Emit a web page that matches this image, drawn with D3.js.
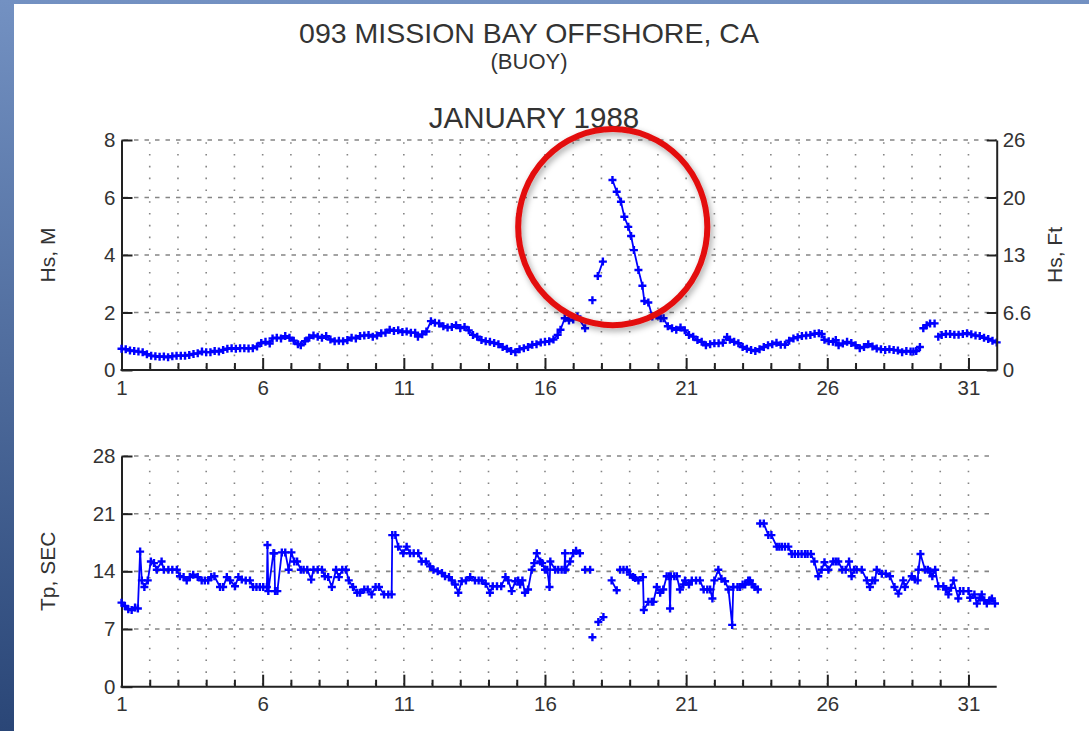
<!DOCTYPE html>
<html>
<head>
<meta charset="utf-8">
<script src="https://cdn.jsdelivr.net/npm/d3@7"></script>
<style>
  body { margin: 0; padding: 0; background: #ffffff; }
  svg { display: block; }
  text { font-family: "Liberation Sans", Arial, sans-serif; }
</style>
</head>
<body>
<div id="chart-area"></div>
<script>
// Titles
var titleMain = "093 MISSION BAY OFFSHORE, CA";
var titleSub = "(BUOY)";
var titleMonth = "JANUARY 1988";

// Axis ticks
var dayTicks = [1, 6, 11, 16, 21, 26, 31];
var hsTicks = [0, 2, 4, 6, 8];
var ftTickLabels = ["0", "6.6", "13", "20", "26"];
var tpTicks = [0, 7, 14, 21, 28];

// Hs (m): [day, metres], null = gap in record
var hsPoints = [
    [1.0,0.74],[1.15,0.72],[1.3,0.68],[1.45,0.66],[1.6,0.64],[1.75,0.62],[1.9,0.55],[2.05,0.50],
    [2.2,0.48],[2.35,0.46],[2.5,0.47],[2.65,0.44],[2.8,0.48],[2.95,0.50],[3.1,0.50],[3.25,0.50],
    [3.4,0.52],[3.55,0.56],[3.7,0.58],[3.85,0.64],[4.0,0.62],[4.15,0.62],[4.3,0.66],[4.45,0.64],
    [4.6,0.70],[4.75,0.74],[4.9,0.76],[5.05,0.74],[5.2,0.76],[5.35,0.76],[5.5,0.75],[5.65,0.76],
    [5.8,0.82],[5.95,0.94],[6.1,0.98],[6.25,0.92],[6.35,1.10],[6.5,1.12],[6.65,1.10],[6.8,1.18],
    [6.95,1.12],[7.1,1.02],[7.25,0.90],[7.35,0.86],[7.5,1.00],[7.65,1.12],[7.8,1.20],[7.95,1.16],
    [8.1,1.12],[8.25,1.18],[8.4,1.06],[8.55,1.00],[8.7,1.02],[8.85,1.00],[9.0,1.04],[9.15,1.12],
    [9.3,1.10],[9.45,1.18],[9.6,1.20],[9.75,1.22],[9.9,1.16],[10.05,1.20],[10.2,1.28],[10.35,1.30],
    [10.5,1.40],[10.65,1.36],[10.8,1.38],[10.95,1.32],[11.1,1.34],[11.25,1.30],[11.4,1.30],[11.5,1.16],
    [11.65,1.24],[11.8,1.34],[11.96,1.70],[12.1,1.64],[12.25,1.62],[12.4,1.52],[12.55,1.48],[12.7,1.50],
    [12.85,1.56],[13.0,1.46],[13.15,1.50],[13.3,1.38],[13.45,1.22],[13.6,1.16],[13.75,1.04],[13.9,1.00],
    [14.05,0.98],[14.2,0.94],[14.35,0.90],[14.5,0.80],[14.65,0.74],[14.8,0.66],[14.95,0.62],[15.1,0.72],
    [15.25,0.76],[15.4,0.80],[15.55,0.88],[15.7,0.90],[15.85,0.96],[16.0,0.98],[16.15,1.00],[16.3,1.06],
    [16.45,1.22],[16.55,1.40],[16.7,1.80],[16.85,1.72],[17.0,1.76],[17.15,1.86],[17.42,1.45],
    null,[17.68,2.43],
    null,[17.87,3.27],[18.05,3.77],
    null,[18.39,6.61],[18.54,6.20],[18.69,5.85],[18.81,5.33],[18.95,4.98],[19.05,4.66],[19.15,4.17],
    [19.31,3.48],[19.45,2.93],[19.52,2.40],[19.66,2.35],[19.80,1.86],[19.95,1.90],[20.1,1.80],[20.2,1.80],
    [20.35,1.52],[20.5,1.45],[20.65,1.40],[20.8,1.48],[20.95,1.38],[21.1,1.22],[21.25,1.16],[21.4,1.04],
    [21.55,0.98],[21.7,0.86],[21.85,0.90],[22.0,0.93],[22.15,0.93],[22.3,0.95],[22.45,1.15],[22.55,1.05],
    [22.7,0.98],[22.85,0.93],[23.0,0.80],[23.15,0.74],[23.3,0.70],[23.45,0.66],[23.6,0.72],[23.75,0.80],
    [23.9,0.86],[24.05,0.90],[24.2,0.95],[24.35,0.88],[24.5,0.88],[24.65,1.02],[24.8,1.10],[24.95,1.14],
    [25.1,1.18],[25.25,1.20],[25.4,1.22],[25.55,1.26],[25.7,1.28],[25.8,1.25],[25.9,1.05],[26.05,1.00],
    [26.2,0.98],[26.3,1.04],[26.4,0.86],[26.55,0.92],[26.7,0.98],[26.85,0.94],[27.0,0.86],[27.15,0.76],
    [27.3,0.80],[27.45,0.90],[27.6,0.82],[27.75,0.75],[27.9,0.72],[28.05,0.70],[28.2,0.72],[28.35,0.70],
    [28.5,0.68],[28.65,0.62],[28.8,0.66],[28.95,0.64],[29.05,0.64],[29.15,0.66],[29.28,0.80],
    null,[29.4,1.45],[29.52,1.56],[29.64,1.62],[29.8,1.62],
    null,[29.93,1.16],[30.05,1.22],[30.2,1.25],[30.35,1.25],[30.5,1.23],[30.65,1.23],[30.8,1.25],
    [30.95,1.28],[31.1,1.24],[31.25,1.20],[31.4,1.18],[31.55,1.12],[31.7,1.08],[31.85,1.02],[32.0,0.96]
];

// Tp (sec): [day, seconds], null = gap in record
var tpPoints = [
    [1.0,10.2],[1.12,9.8],[1.24,9.4],[1.36,9.3],[1.48,9.6],[1.58,9.5],[1.66,16.4],[1.72,12.9],[1.81,12.1],
    [1.93,12.9],[2.04,15.2],[2.15,15.0],[2.25,14.2],[2.42,15.2],[2.5,14.2],[2.66,14.2],[2.8,14.2],
    [2.96,14.2],[3.07,13.4],[3.2,13.3],[3.31,12.9],[3.42,13.3],[3.54,13.6],[3.7,13.3],[3.84,12.9],
    [3.95,12.9],[4.07,12.9],[4.18,13.3],[4.29,13.4],[4.49,12.1],[4.6,12.1],[4.73,13.3],[4.85,12.9],
    [5.02,12.2],[5.14,13.3],[5.26,13.0],[5.4,12.9],[5.55,12.9],[5.66,12.1],[5.78,12.1],[5.9,12.1],
    [6.02,12.1],[6.15,12.1],[6.17,17.2],[6.2,11.6],[6.38,16.2],[6.41,16.2],[6.44,11.6],[6.52,11.6],
    [6.68,16.3],[6.8,16.3],[6.92,14.2],[7.02,16.3],[7.12,15.2],[7.22,15.2],[7.35,14.2],[7.45,14.2],
    [7.58,14.2],[7.72,13.0],[7.8,14.2],[7.95,14.2],[8.1,14.2],[8.2,13.4],[8.32,13.3],[8.45,12.1],
    [8.6,14.2],[8.7,13.3],[8.82,14.2],[8.95,14.2],[9.05,12.9],[9.2,12.1],[9.35,11.4],[9.45,11.4],
    [9.6,11.8],[9.72,11.8],[9.86,11.2],[10.0,12.1],[10.12,12.1],[10.3,11.2],[10.45,11.2],[10.57,11.2],
    [10.59,18.4],[10.7,18.4],[10.8,17.0],[10.98,16.2],[11.1,17.0],[11.22,16.2],[11.35,16.2],[11.51,16.2],
    [11.63,15.2],[11.78,15.2],[11.93,14.6],[12.05,14.2],[12.2,14.0],[12.35,13.8],[12.46,13.4],[12.6,13.3],
    [12.7,12.9],[12.82,12.4],[12.93,11.4],[13.05,12.8],[13.2,12.9],[13.35,13.3],[13.52,12.9],[13.65,12.9],
    [13.76,12.9],[13.9,12.5],[14.05,11.4],[14.15,12.2],[14.3,12.2],[14.45,12.2],[14.6,13.3],[14.7,12.9],
    [14.82,11.6],[14.95,12.8],[15.05,12.9],[15.12,12.4],[15.2,12.9],[15.29,11.4],[15.4,11.8],[15.53,14.2],
    [15.62,15.0],[15.71,16.2],[15.83,15.2],[15.9,15.0],[16.0,14.2],[16.08,14.2],[16.16,12.1],[16.19,15.2],
    [16.36,14.2],[16.47,14.2],[16.59,14.2],[16.69,14.2],[16.71,16.2],[16.73,14.2],[16.89,15.2],[17.0,16.2],
    [17.1,16.5],[17.24,16.2],
    null,[17.42,14.2],[17.6,14.2],
    null,[17.68,6.0],
    null,[17.89,7.85],[18.07,8.45],
    null,[18.36,12.9],[18.54,11.7],
    null,[18.66,14.2],[18.78,14.2],[18.9,14.2],[19.01,13.6],[19.12,13.3],[19.19,13.2],[19.31,12.9],
    [19.47,13.3],[19.5,9.3],[19.66,10.3],[19.78,10.3],[19.84,10.3],[19.96,12.1],[20.08,11.4],[20.19,11.8],
    [20.31,13.4],[20.4,13.4],[20.43,9.5],[20.46,13.4],[20.58,13.4],[20.67,13.4],[20.78,11.8],[20.9,12.4],
    [20.96,12.9],[21.1,12.4],[21.2,12.9],[21.35,12.9],[21.49,12.9],[21.62,11.8],[21.75,11.8],[21.85,11.8],
    [21.93,10.7],[22.0,12.9],[22.14,14.2],[22.25,13.1],[22.38,12.8],[22.5,11.8],[22.63,7.5],[22.67,12.1],
    [22.82,12.1],[22.91,12.1],[23.0,12.4],[23.09,12.4],[23.2,12.9],[23.26,12.9],[23.35,12.4],[23.42,12.1],
    [23.54,11.8],
    null,[23.62,19.8],[23.75,19.8],[23.91,18.4],[24.02,18.4],[24.21,17.0],[24.3,17.0],[24.39,17.0],
    [24.5,17.0],[24.62,17.0],[24.74,16.1],[24.85,16.1],[24.97,16.1],[25.09,16.1],[25.21,16.1],[25.3,16.1],
    [25.42,16.1],[25.54,15.2],[25.68,13.4],[25.8,14.2],[25.9,15.1],[26.04,14.2],[26.21,15.2],[26.3,15.2],
    [26.39,15.2],[26.53,14.2],[26.65,14.2],[26.77,15.2],[26.86,13.4],[26.95,14.2],[27.04,14.2],[27.22,14.2],
    [27.4,12.9],[27.51,12.1],[27.6,12.9],[27.69,12.9],[27.75,14.2],[27.93,13.7],[28.07,13.7],[28.22,13.4],
    [28.38,12.1],[28.52,11.3],[28.69,12.9],[28.75,12.1],[28.99,13.4],[29.1,13.0],[29.2,12.9],[29.23,14.2],
    [29.3,16.1],[29.46,14.2],[29.56,14.2],[29.64,14.0],[29.72,13.4],[29.82,14.2],[29.93,12.2],[30.11,12.2],
    [30.2,11.8],[30.29,11.2],[30.38,12.0],[30.47,12.9],[30.64,10.7],[30.7,11.6],[30.82,11.6],[31.0,11.6],
    [31.06,10.8],[31.21,11.2],[31.3,10.1],[31.4,10.8],[31.47,11.2],[31.56,10.5],[31.65,10.1],[31.75,10.5],
    [31.83,10.7],[31.94,10.1]
];

// Red highlight round the storm peak (day, metres, radii in day / metre units)
var highlight = { day: 18.4, hs: 4.97, rDay: 3.35, rHs: 3.41 };

var W = 1089, H = 731;
var M_TO_FT = 3.2808;

var svg = d3.select("#chart-area")
    .append("svg")
    .attr("width", W)
    .attr("height", H);

var defs = svg.append("defs");
var grad = defs.append("linearGradient")
    .attr("id", "frame")
    .attr("x1", 0).attr("y1", 0).attr("x2", 0).attr("y2", 1);
grad.append("stop").attr("offset", "0%").attr("stop-color", "#7391c2");
grad.append("stop").attr("offset", "100%").attr("stop-color", "#2a4677");

var shadow = defs.append("filter")
    .attr("id", "shadow")
    .attr("x", "-20%").attr("y", "-20%").attr("width", "140%").attr("height", "140%");
shadow.append("feDropShadow")
    .attr("dx", 2).attr("dy", 3)
    .attr("stdDeviation", 3)
    .attr("flood-color", "#000")
    .attr("flood-opacity", 0.35);

// slide frame
svg.append("rect").attr("width", W).attr("height", H).attr("fill", "url(#frame)");
svg.append("rect").attr("x", 14).attr("y", 4).attr("width", W - 14).attr("height", H - 4).attr("fill", "#ffffff");

// Titles
svg.append("text")
    .attr("x", 529).attr("y", 43)
    .attr("text-anchor", "middle")
    .attr("font-size", "28.5px")
    .attr("fill", "#333")
    .text(titleMain);
svg.append("text")
    .attr("x", 529).attr("y", 69)
    .attr("text-anchor", "middle")
    .attr("font-size", "22px")
    .attr("fill", "#333")
    .text(titleSub);
svg.append("text")
    .attr("x", 534).attr("y", 128)
    .attr("text-anchor", "middle")
    .attr("font-size", "29.5px")
    .attr("fill", "#333")
    .text(titleMonth);

// X Scale (days of month)
var x = d3.scaleLinear().domain([1, 32]).range([121.5, 996.7]);
var minorDays = d3.range(2, 32);

// Y Scales
var yHs = d3.scaleLinear().domain([0, 8]).range([370, 140]);
var yFt = d3.scaleLinear().domain([0, 8 * M_TO_FT]).range([370, 140]);
var yTp = d3.scaleLinear().domain([0, 28]).range([686.7, 456]);

var line = function(yScale) {
    return d3.line()
        .defined(function(d) { return d !== null; })
        .x(function(d) { return x(d[0]); })
        .y(function(d) { return yScale(d[1]); });
};

function drawPanel(yScale, ticks, points, label, hasRightAxis) {
    var g = svg.append("g");
    var top = yScale.range()[1], bottom = yScale.range()[0];
    var right = hasRightAxis ? x(32) : x(31.8);

    // dotted vertical grid, one per day
    g.selectAll(".vgrid")
        .data(minorDays)
        .enter().append("line")
        .attr("x1", function(d) { return x(d); })
        .attr("x2", function(d) { return x(d); })
        .attr("y1", bottom - 2)
        .attr("y2", top)
        .attr("stroke", "#858585")
        .attr("stroke-width", 1.6)
        .attr("stroke-dasharray", "1.6,10.2");

    // dashed horizontal grid at major ticks
    g.selectAll(".hgrid")
        .data(ticks.slice(1))
        .enter().append("line")
        .attr("x1", x(1) + 2)
        .attr("x2", right)
        .attr("y1", function(d) { return yScale(d); })
        .attr("y2", function(d) { return yScale(d); })
        .attr("stroke", "#858585")
        .attr("stroke-width", 1.6)
        .attr("stroke-dasharray", "4.5,6");

    // X Axis, minor then major ticks
    g.append("g")
        .attr("transform", "translate(0," + bottom + ")")
        .call(d3.axisBottom(x).tickValues(minorDays.filter(function(d) { return dayTicks.indexOf(d) < 0; }))
            .tickSizeInner(-7).tickSizeOuter(0).tickFormat(""))
        .call(function(a) {
            a.select(".domain").remove();
            a.selectAll("line").attr("stroke", "#222").attr("stroke-width", 2);
        });

    var xAxis = g.append("g")
        .attr("transform", "translate(0," + bottom + ")")
        .call(d3.axisBottom(x).tickValues(dayTicks)
            .tickSizeInner(-12).tickSizeOuter(0).tickPadding(10));

    // Y Axis
    var yAxis = g.append("g")
        .attr("transform", "translate(" + x(1) + ",0)")
        .call(d3.axisLeft(yScale).tickValues(ticks)
            .tickSizeInner(-11).tickSizeOuter(0).tickPadding(6));

    [xAxis, yAxis].forEach(function(a) {
        a.attr("font-family", "'Liberation Sans', Arial, sans-serif").attr("font-size", 20.5);
        a.selectAll("text").attr("fill", "#333");
        a.selectAll("line").attr("stroke", "#222").attr("stroke-width", 2);
        a.select(".domain").attr("stroke", "#222").attr("stroke-width", 2);
    });
    xAxis.select(".domain").attr("d", "M" + (x(1) - 1) + ",0H" + x(32));

    // Y Label
    g.append("text")
        .attr("transform", "translate(55," + ((top + bottom) / 2) + ") rotate(-90)")
        .attr("text-anchor", "middle")
        .attr("font-size", "21px")
        .attr("fill", "#333")
        .text(label);

    // data line and plus markers
    g.append("path")
        .datum(points)
        .attr("fill", "none")
        .attr("stroke", "#0000ff")
        .attr("stroke-width", 1.8)
        .attr("d", line(yScale));

    g.selectAll(".pt")
        .data(points.filter(function(d) { return d !== null; }))
        .enter().append("path")
        .attr("transform", function(d) { return "translate(" + x(d[0]) + "," + yScale(d[1]) + ")"; })
        .attr("d", "M-4,0H4M0,-4V4")
        .attr("stroke", "#0000ff")
        .attr("stroke-width", 2.4)
        .attr("fill", "none");

    return g;
}

var hsPanel = drawPanel(yHs, hsTicks, hsPoints, "Hs, M", true);
drawPanel(yTp, tpTicks, tpPoints, "Tp, SEC", false);

// Right axis in feet
var ftAxis = hsPanel.append("g")
    .attr("transform", "translate(" + x(32) + ",0)")
    .call(d3.axisRight(yFt)
        .tickValues(hsTicks.map(function(m) { return m * M_TO_FT; }))
        .tickFormat(function(d, i) { return ftTickLabels[i]; })
        .tickSizeInner(-10).tickSizeOuter(0).tickPadding(6))
    .attr("font-family", "'Liberation Sans', Arial, sans-serif")
    .attr("font-size", 20.5);
ftAxis.selectAll("text").attr("fill", "#333");
ftAxis.selectAll("line").attr("stroke", "#222").attr("stroke-width", 2);
ftAxis.select(".domain").attr("stroke", "#222").attr("stroke-width", 2);

hsPanel.append("text")
    .attr("transform", "translate(1062," + ((yHs(0) + yHs(8)) / 2) + ") rotate(-90)")
    .attr("text-anchor", "middle")
    .attr("font-size", "21px")
    .attr("fill", "#333")
    .text("Hs, Ft");

// Highlight ellipse
svg.append("ellipse")
    .attr("cx", x(highlight.day))
    .attr("cy", yHs(highlight.hs))
    .attr("rx", x(highlight.day + highlight.rDay) - x(highlight.day))
    .attr("ry", yHs(highlight.hs) - yHs(highlight.hs + highlight.rHs))
    .attr("fill", "none")
    .attr("stroke", "#e30f0f")
    .attr("stroke-width", 6)
    .attr("filter", "url(#shadow)");
</script>
</body>
</html>
